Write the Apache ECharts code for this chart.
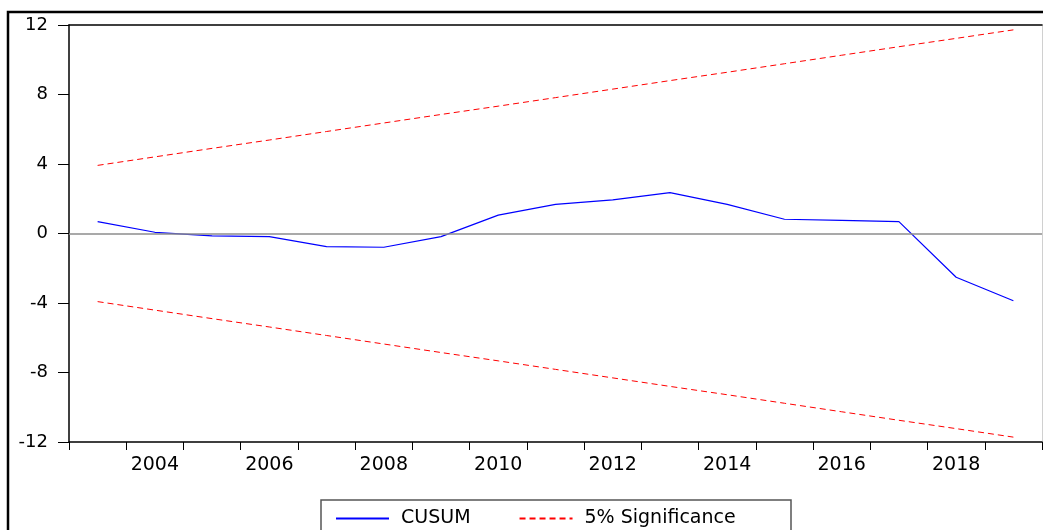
<!DOCTYPE html>
<html>
<head>
<meta charset="utf-8">
<script src="https://cdn.jsdelivr.net/npm/echarts@6/dist/echarts.min.js"></script>
<style>html,body{margin:0;padding:0;background:#fff}#c{width:1043px;height:530px}</style>
</head>
<body>
<div id="c"></div>
<script>
var years = ['2003','2004','2005','2006','2007','2008','2009','2010','2011','2012','2013','2014','2015','2016','2017','2018','2019'];
var cusum = [0.68, 0.07, -0.14, -0.18, -0.76, -0.79, -0.18, 1.06, 1.68, 1.93, 2.35, 1.68, 0.82, 0.76, 0.68, -2.52, -3.87];
var upper = [3.92, 4.41, 4.90, 5.38, 5.87, 6.36, 6.85, 7.33, 7.82, 8.31, 8.80, 9.28, 9.77, 10.26, 10.75, 11.23, 11.72];
var lower = [-3.92, -4.41, -4.90, -5.38, -5.87, -6.36, -6.85, -7.33, -7.82, -8.31, -8.80, -9.28, -9.77, -10.26, -10.75, -11.23, -11.72];
var yTicks = {min: -12, max: 12, interval: 4};

var FONT = 'DejaVu Sans';
var chart = echarts.init(document.getElementById('c'));
chart.setOption({
  animation: false,
  backgroundColor: '#ffffff',
  grid: {left: 69, top: 25, right: 1, bottom: 88, containLabel: false},
  graphic: [{
    type: 'rect', silent: true, z: 0,
    shape: {x: 8, y: 12, width: 1100, height: 600},
    style: {fill: null, stroke: '#000', lineWidth: 2.5}
  }, {
    type: 'rect', silent: true, z: 0,
    shape: {x: 321, y: 500, width: 470, height: 50},
    style: {fill: '#fff', stroke: '#555', lineWidth: 1.5}
  }],
  legend: {
    left: 335, top: 509,
    padding: 0,
    itemWidth: 53, itemHeight: 14, itemGap: 48,
    itemStyle: {color: 'transparent', borderColor: 'transparent', borderWidth: 0, opacity: 0},
    textStyle: {fontFamily: FONT, fontSize: 19, color: '#000', padding: [0, 0, 0, 7]},
    data: ['CUSUM', '5% Significance']
  },
  xAxis: [{
    type: 'category', data: years, boundaryGap: true,
    position: 'bottom',
    axisLine: {onZero: false, lineStyle: {color: '#000', width: 1.5}},
    axisTick: {show: true, interval: 0, length: 8, lineStyle: {color: '#000', width: 1}},
    axisLabel: {
      interval: function (i) { return i % 2 === 1; },
      margin: 14, fontFamily: FONT, fontSize: 19, color: '#000'
    },
    splitLine: {show: false}
  }, {
    type: 'category', data: years, boundaryGap: true,
    position: 'top',
    axisLine: {onZero: false, lineStyle: {color: '#000', width: 1.5}},
    axisTick: {show: false}, axisLabel: {show: false}, splitLine: {show: false}
  }],
  yAxis: [{
    type: 'value', min: yTicks.min, max: yTicks.max, interval: yTicks.interval,
    position: 'left',
    axisLine: {show: true, onZero: false, lineStyle: {color: '#000', width: 1.5}},
    axisTick: {show: true, length: 11, lineStyle: {color: '#000', width: 1}},
    axisLabel: {margin: 21, fontFamily: FONT, fontSize: 18, color: '#000'},
    splitLine: {show: false}
  }, {
    type: 'value', min: yTicks.min, max: yTicks.max, interval: yTicks.interval,
    position: 'right',
    axisLine: {show: true, onZero: false, lineStyle: {color: '#d0d0d0', width: 1}},
    axisTick: {show: false}, axisLabel: {show: false}, splitLine: {show: false}
  }],
  series: [{
    name: 'CUSUM', type: 'line', data: cusum, symbol: 'none',
    lineStyle: {color: '#0000ff', width: 1.2}, itemStyle: {color: '#0000ff'}, z: 3,
    markLine: {
      silent: true, symbol: 'none', label: {show: false},
      lineStyle: {color: '#8c8c8c', width: 1.5, type: 'solid'},
      data: [{yAxis: 0}]
    }
  }, {
    name: '5% Significance', type: 'line', data: upper, symbol: 'none',
    lineStyle: {color: '#ff0000', width: 1, type: [6, 4]}, itemStyle: {color: '#ff0000'}
  }, {
    name: '5% Significance', type: 'line', data: lower, symbol: 'none',
    lineStyle: {color: '#ff0000', width: 1, type: [6, 4]}, itemStyle: {color: '#ff0000'}
  }]
});
</script>
</body>
</html>
